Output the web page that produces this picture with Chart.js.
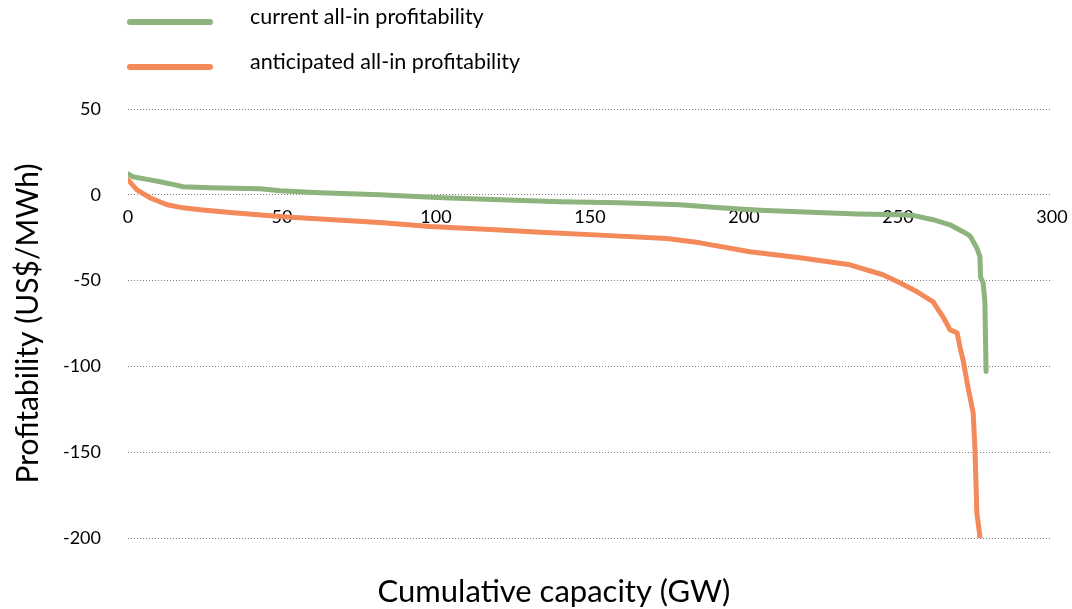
<!DOCTYPE html>
<html>
<head>
<meta charset="utf-8">
<script src="https://cdn.jsdelivr.net/npm/chart.js@4.4.1/dist/chart.umd.min.js"></script>
<style>
  html, body { margin: 0; padding: 0; background: #fff; }
  #wrap { position: relative; width: 1072px; height: 609px; }
  #legend { position: absolute; left: 0; top: 0; font-family: Lato, sans-serif; font-size: 21.5px; color: #000; }
  .item { position: absolute; left: 127px; height: 30px; white-space: nowrap; }
  .swatch { position: absolute; left: 0; width: 86px; height: 6px; border-radius: 3px; }
  .label { position: absolute; left: 123px; line-height: 30px; }
</style>
</head>
<body>
<div id="wrap">
  <canvas id="chart" width="1072" height="609"></canvas>
  <div id="legend"></div>
</div>
<script>
// series labels
const seriesNames = ['current all-in profitability', 'anticipated all-in profitability'];
const seriesColors = ['#8cb47c', '#f4895a'];

// current: cumulative capacity (GW) and profitability (US$/MWh)
const currentCapacity = [0, 1.6, 7.1, 10.4, 15.3, 17.9, 26.6, 42.9, 49.4, 62.3, 81.8, 88.3, 102.3, 120.8, 140.3, 159.7, 179.2, 192.2, 205.2, 226, 237, 250.6, 254.9, 261.4, 266.9, 271.1, 273.4, 275.6, 276.6, 276.8, 277.6, 278.2, 278.6];
const currentProfit = [12.2, 10.5, 8.7, 7.6, 5.8, 4.7, 4.1, 3.5, 2.3, 1.2, 0, -0.6, -1.7, -2.9, -4.1, -4.7, -5.8, -7.6, -9, -10.5, -11.2, -11.6, -12, -14.5, -17.5, -21.5, -24, -31, -36, -48, -51, -62, -103];

// anticipated: cumulative capacity (GW) and profitability (US$/MWh)
const anticipatedCapacity = [0, 2.9, 7.1, 12.7, 17.9, 23.4, 34.1, 50.3, 66.6, 82.8, 98.1, 120.8, 133.8, 153.2, 175, 185.7, 201.9, 218.2, 234.4, 245.1, 250.6, 256.2, 261.4, 264.6, 266.9, 269.2, 270.1, 271.1, 272.7, 274.4, 275, 275.6, 276.6];
const anticipatedProfit = [8.7, 2.9, -1.7, -5.8, -7.6, -8.7, -10.5, -12.8, -14.6, -16.3, -18.5, -20.5, -21.8, -23.5, -25.5, -28, -33.2, -36.7, -40.8, -46.6, -51.3, -56.5, -62.4, -71.1, -78.7, -80.4, -88.6, -96, -111.9, -127, -148.6, -185.3, -199.3];

// axis ticks
const capacityTicks = [0, 50, 100, 150, 200, 250, 300];
const profitTicks = [-200, -150, -100, -50, 0, 50];

const toPoints = (xs, ys) => xs.map((x, i) => ({ x: x, y: ys[i] }));
const FONT = 'Lato, sans-serif';
const noPadding = s => { s.paddingLeft = 0; s.paddingRight = 0; s.paddingTop = 0; s.paddingBottom = 0; };

// move the x title so it sits where the original has it
const shiftTitle = {
    id: 'shiftTitle',
    afterLayout(chart) {
        const s = chart.scales.xTitle;
        s.right = 1108 - s.left;
    }
};

const ctx = document.getElementById('chart').getContext('2d');
const chart = new Chart(ctx, {
    type: 'line',
    data: {
        datasets: [{
            label: seriesNames[0],
            data: toPoints(currentCapacity, currentProfit),
            borderColor: seriesColors[0],
            xAxisID: 'x',
            yAxisID: 'y'
        }, {
            label: seriesNames[1],
            data: toPoints(anticipatedCapacity, anticipatedProfit),
            borderColor: seriesColors[1],
            xAxisID: 'x',
            yAxisID: 'y'
        }]
    },
    options: {
        responsive: false,
        animation: false,
        layout: { padding: { top: 109, right: 20, left: 0, bottom: 0 } },
        elements: {
            line: { borderWidth: 5, tension: 0, borderCapStyle: 'round', borderJoinStyle: 'round', fill: false },
            point: { radius: 0, hoverRadius: 0 }
        },
        plugins: {
            legend: { display: false },
            tooltip: { enabled: false }
        },
        scales: {
            x: {
                type: 'linear',
                position: { y: 0 },
                min: capacityTicks[0],
                max: capacityTicks[capacityTicks.length - 1],
                ticks: { stepSize: 50, padding: 12, color: '#000', font: { family: FONT, size: 18 } },
                grid: { display: false, drawTicks: false },
                border: { display: false },
                afterFit: noPadding
            },
            xTitle: {
                type: 'linear',
                axis: 'x',
                position: 'bottom',
                min: 0,
                max: 300,
                ticks: { display: false },
                grid: { display: false, drawTicks: false },
                border: { display: false },
                title: {
                    display: true,
                    text: 'Cumulative capacity (GW)',
                    color: '#000',
                    font: { family: FONT, size: 31 },
                    padding: { top: 0, bottom: -2 }
                },
                afterFit: s => { noPadding(s); s.height = 71; }
            },
            y: {
                type: 'linear',
                min: profitTicks[0],
                max: profitTicks[profitTicks.length - 1],
                ticks: { stepSize: 50, padding: 27, color: '#000', font: { family: FONT, size: 18 } },
                grid: { color: 'rgba(0,0,0,0.5)', lineWidth: 1, drawTicks: false },
                border: { display: false, dash: [1, 2] },
                title: {
                    display: true,
                    text: 'Profitability (US$/MWh)',
                    color: '#000',
                    font: { family: FONT, size: 30 },
                    padding: { top: 10, bottom: 0 }
                },
                afterFit: s => { noPadding(s); s.width = 128; }
            }
        }
    },
    plugins: [shiftTitle]
});

// legend, stacked in the top-left corner
const legend = document.getElementById('legend');
chart.data.datasets.forEach((ds, i) => {
    const item = document.createElement('div');
    item.className = 'item';
    item.style.top = (5 + i * 45) + 'px';
    item.innerHTML = '<div class="swatch" style="top:14px;background:' + ds.borderColor + '"></div>' +
        '<div class="label" style="top:-4px">' + ds.label + '</div>';
    legend.appendChild(item);
});
</script>
</body>
</html>
